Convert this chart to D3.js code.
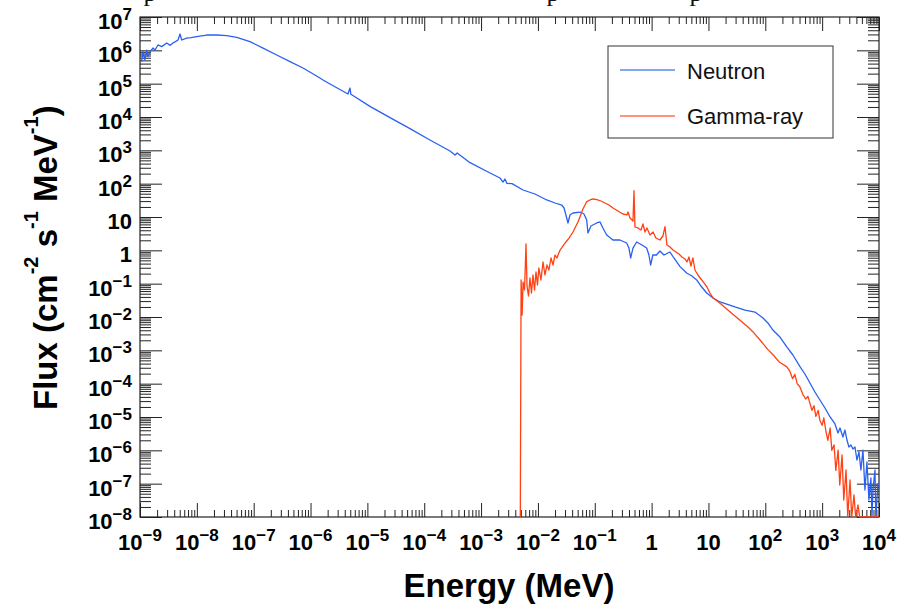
<!DOCTYPE html>
<html><head><meta charset="utf-8">
<script src="https://cdnjs.cloudflare.com/ajax/libs/d3/7.8.5/d3.min.js"></script>
<style>html,body{margin:0;padding:0;background:#fff;}svg{display:block;}</style>
</head><body>
<script>
// ---- data ----
const neutronEnergy = [1.07e-9,1.13e-9,1.22e-9,1.31e-9,1.38e-9,1.50e-9,1.69e-9,1.84e-9,2.07e-9,2.41e-9,
2.95e-9,3.39e-9,3.80e-9,4.27e-9,4.66e-9,5.06e-9,5.42e-9,6.62e-9,7.94e-9,9.93e-9,
1.49e-8,2.23e-8,3.35e-8,5.02e-8,8.61e-8,1.46e-7,2.54e-7,4.36e-7,7.36e-7,1.28e-6,
1.66e-6,2.20e-6,4.56e-6,4.94e-6,5.13e-6,1.11e-5,2.50e-5,5.61e-5,1.26e-4,2.84e-4,
3.48e-4,3.80e-4,6.38e-4,1.44e-3,2.15e-3,2.43e-3,2.63e-3,2.85e-3,3.50e-3,5.46e-3,
8.87e-3,1.43e-2,2.00e-2,2.62e-2,2.88e-2,3.11e-2,3.38e-2,3.66e-2,4.14e-2,5.50e-2,
6.46e-2,7.21e-2,7.59e-2,8.57e-2,0.108,0.124,0.139,0.162,0.209,0.277,
0.364,0.399,0.428,0.470,0.546,0.676,0.818,0.897,0.962,1.05,
1.22,1.40,1.65,2.10,2.47,3.16,4.14,5.13,6.21,7.38,
9.31,12.0,16.0,20.9,29.2,43.9,65.8,91.0,111,136,
181,237,306,407,498,610,746,914,1120,1370,
1680,1900,2060,2320,2520,2730,2960,3210,3480,3780,
4090,4440,4810,5220,5660,6140,6650,7210,7520,7830,
8490,8800,9200,9600,9980];
const neutronFlux = [4.57e5,9.12e5,5.13e5,1.02e6,6.46e5,9.12e5,1.17e6,1.02e6,1.45e6,1.29e6,
1.66e6,1.41e6,1.66e6,1.86e6,2.04e6,3.09e6,2.04e6,2.34e6,2.40e6,2.57e6,
2.88e6,2.88e6,2.75e6,2.45e6,1.82e6,1.17e6,7.24e5,4.57e5,2.95e5,1.70e5,
1.29e5,9.77e4,4.90e4,7.41e4,4.79e4,2.09e4,9.55e3,4.47e3,2.04e3,955,
724,832,427,209,148,112,138,102,100,64.6,
49.0,32.4,26.3,22.9,18.6,11.5,6.61,11.5,13.2,14.1,
12.3,8.13,3.31,5.37,6.61,7.08,4.68,2.88,2.04,2.04,
1.66,1.17,0.589,1.17,1.78,1.45,1.17,0.724,0.363,0.724,
0.724,0.955,0.724,0.891,0.589,0.324,0.209,0.170,0.129,8.51e-2,
5.25e-2,3.72e-2,2.82e-2,2.45e-2,2.00e-2,1.62e-2,1.41e-2,9.33e-3,6.61e-3,4.07e-3,
2.51e-3,1.29e-3,7.24e-4,3.24e-4,1.95e-4,1.05e-4,5.62e-5,3.24e-5,1.86e-5,1.02e-5,
6.17e-6,3.31e-6,4.68e-6,2.51e-6,4.07e-6,2.04e-6,1.26e-6,1.45e-6,1.10e-6,1.26e-6,
5.13e-7,8.91e-7,2.57e-7,1.02e-6,6.46e-8,4.47e-7,3.24e-8,1.48e-7,0,6.46e-8,
2.57e-7,0,3.24e-8,1.0e-7,9.12e-8];

const gammaEnergy = [4.90e-3,5.06e-3,5.27e-3,5.48e-3,5.81e-3,6.17e-3,6.43e-3,6.82e-3,7.24e-3,7.71e-3,
8.18e-3,8.71e-3,9.25e-3,9.82e-3,1.04e-2,1.13e-2,1.23e-2,1.33e-2,1.44e-2,1.56e-2,
1.70e-2,1.84e-2,2.00e-2,2.16e-2,2.44e-2,2.76e-2,3.11e-2,3.52e-2,4.14e-2,4.67e-2,
5.06e-2,5.50e-2,6.19e-2,7.21e-2,8.24e-2,9.29e-2,0.109,0.129,0.151,0.178,
0.209,0.256,0.313,0.368,0.384,0.416,0.470,0.490,0.509,0.575,
0.650,0.705,0.764,0.828,0.935,1.06,1.19,1.40,1.58,1.72,
1.86,2.10,2.38,2.68,3.03,3.42,3.86,4.19,4.54,4.92,
5.33,5.79,6.53,7.38,8.34,9.42,10.6,12.2,15.8,20.9,
28.2,37.2,50.1,60.3,69.2,80.7,93.3,110,138,178,
237,269,302,331,363,407,457,513,562,610,
661,718,776,851,912,1000,1070,1170,1260,1380,
1480,1620,1740,1910,2040,2240,2400,2630,2820,3090,
3310,3630,3890,4270,4570,10000];
const gammaFlux = [0,0.129,1.15e-2,0.112,6.46e-2,1.55,8.51e-2,4.27e-2,0.148,5.25e-2,
0.182,6.46e-2,0.224,9.12e-2,0.295,0.129,0.447,0.182,0.363,0.257,
0.589,0.363,0.724,0.589,1.00,1.35,1.78,2.34,3.55,5.37,
7.08,10.2,17.4,28.8,32.4,34.7,33.1,30.2,26.3,22.9,
18.6,15.1,12.3,11.5,14.1,9.33,7.59,61.7,5.01,4.68,
4.07,6.17,3.55,4.68,2.88,3.55,2.34,2.04,2.69,5.13,
1.45,1.26,1.02,0.891,0.776,0.631,0.550,0.447,0.631,0.339,
0.589,0.257,0.182,0.138,0.105,7.94e-2,5.25e-2,3.63e-2,2.63e-2,1.74e-2,
1.12e-2,7.59e-3,4.90e-3,3.63e-3,2.75e-3,2.04e-3,1.51e-3,1.07e-3,7.24e-4,4.37e-4,
3.24e-4,2.40e-4,1.41e-4,1.91e-4,1.00e-4,7.94e-5,4.79e-5,3.47e-5,4.17e-5,2.57e-5,
1.58e-5,2.19e-5,1.05e-5,1.58e-5,7.94e-6,5.62e-6,9.33e-6,3.55e-6,2.00e-6,4.68e-6,
1.00e-6,1.45e-6,2.51e-7,1.02e-6,9.12e-8,7.24e-7,3.24e-8,2.57e-7,0,1.29e-7,
0,4.57e-8,0,2.29e-8,0,0];

const seriesNames = ["Neutron","Gamma-ray"];
const xTickValues = [1e-9,1e-8,1e-7,1e-6,1e-5,1e-4,1e-3,1e-2,1e-1,1,10,100,1000,10000];
const xTickLabels = [["10","\u22129"],["10","\u22128"],["10","\u22127"],["10","\u22126"],["10","\u22125"],["10","\u22124"],["10","\u22123"],["10","\u22122"],["10","\u22121"],["1",""],["10",""],["10","2"],["10","3"],["10","4"]];
const yTickValues = [1e7,1e6,1e5,1e4,1e3,1e2,10,1,1e-1,1e-2,1e-3,1e-4,1e-5,1e-6,1e-7,1e-8];
const yTickLabels = [["10","7"],["10","6"],["10","5"],["10","4"],["10","3"],["10","2"],["10",""],["1",""],["10","\u22121"],["10","\u22122"],["10","\u22123"],["10","\u22124"],["10","\u22125"],["10","\u22126"],["10","\u22127"],["10","\u22128"]];
const xTitle = "Energy (MeV)";

// ---- layout ----
const W = 915, H = 604;
const L = 140, R = 879, T = 17, B = 517;
const blue = "#2a60f2", red = "#ff4114";
const FONT = "'Liberation Sans', Arial, Helvetica, sans-serif";

const svg = d3.select("body").append("svg").attr("width", W).attr("height", H)
  .style("font-family", FONT);

const x = d3.scaleLog().domain([1e-9, 1e4]).range([L, R]);
const y = d3.scaleLog().domain([1e-8, 1e7]).range([B, T]).clamp(true);

// cut-off caption line above the figure (only descenders visible)
svg.append("g").attr("font-family", "'Liberation Serif', 'DejaVu Serif', serif").attr("font-size", 26).attr("fill", "#111")
  .selectAll("text").data([150, 553, 696]).join("text")
  .attr("x", d => d).attr("y", 1).attr("text-anchor", "middle").text("p");

// minor tick values
const minorX = [], minorY = [];
for (let e = -9; e < 4; e++) for (let k = 2; k <= 9; k++) minorX.push(k * Math.pow(10, e));
for (let e = -8; e < 7; e++) for (let k = 2; k <= 9; k++) minorY.push(k * Math.pow(10, e));

function axisG(axis) {
  const g = svg.append("g");
  g.call(axis);
  g.select(".domain").remove();
  g.selectAll(".tick line").attr("stroke", "#222").attr("stroke-width", 1);
  g.selectAll(".tick text").remove();
  return g;
}
// bottom
axisG(d3.axisBottom(x).tickValues(xTickValues).tickSize(-14).tickSizeOuter(0)).attr("transform", `translate(0,${B})`);
axisG(d3.axisBottom(x).tickValues(minorX).tickSize(-7).tickSizeOuter(0)).attr("transform", `translate(0,${B})`);
// top
axisG(d3.axisTop(x).tickValues(xTickValues).tickSize(-14).tickSizeOuter(0)).attr("transform", `translate(0,${T})`);
axisG(d3.axisTop(x).tickValues(minorX).tickSize(-7).tickSizeOuter(0)).attr("transform", `translate(0,${T})`);
// left
axisG(d3.axisLeft(y).tickValues(yTickValues).tickSize(-22).tickSizeOuter(0)).attr("transform", `translate(${L},0)`);
axisG(d3.axisLeft(y).tickValues(minorY).tickSize(-11).tickSizeOuter(0)).attr("transform", `translate(${L},0)`);
// right
axisG(d3.axisRight(y).tickValues(yTickValues).tickSize(-22).tickSizeOuter(0)).attr("transform", `translate(${R},0)`);
axisG(d3.axisRight(y).tickValues(minorY).tickSize(-11).tickSizeOuter(0)).attr("transform", `translate(${R},0)`);

// frame
svg.append("rect").attr("x", L).attr("y", T).attr("width", R - L).attr("height", B - T)
  .attr("fill", "none").attr("stroke", "#222").attr("stroke-width", 1.2);

// tick labels
const xl = svg.append("g").attr("font-weight", "bold").attr("font-size", 22).attr("fill", "#000");
xTickValues.forEach((v, i) => {
  const t = xl.append("text").attr("x", x(v)).attr("y", 550).attr("text-anchor", "middle");
  t.append("tspan").text(xTickLabels[i][0]);
  if (xTickLabels[i][1]) t.append("tspan").attr("dy", -9).attr("font-size", 17).text(xTickLabels[i][1]);
});
const yl = svg.append("g").attr("font-weight", "bold").attr("font-size", 22).attr("fill", "#000");
yTickValues.forEach((v, i) => {
  const t = yl.append("text").attr("x", 132).attr("y", y(v) + 12).attr("text-anchor", "end");
  t.append("tspan").text(yTickLabels[i][0]);
  if (yTickLabels[i][1]) t.append("tspan").attr("dy", -9).attr("font-size", 17).text(yTickLabels[i][1]);
});

// axis titles
svg.append("text").attr("x", 509).attr("y", 597).attr("text-anchor", "middle")
  .attr("font-weight", "bold").attr("font-size", 33).text(xTitle);

const yt = svg.append("text").attr("transform", "translate(57,410) rotate(-90)")
  .attr("font-weight", "bold").attr("font-size", 33);
const ytParts = [["Flux (cm", 0], ["-2", 1], [" s", 0], ["-1", 1], [" MeV", 0], ["-1", 1], [")", 0]];
let prevSup = 0;
ytParts.forEach(([s, sup]) => {
  const ts = yt.append("tspan").text(s);
  if (sup) ts.attr("font-size", 20);
  if (sup && !prevSup) ts.attr("dy", -19);
  if (!sup && prevSup) ts.attr("dy", 19);
  prevSup = sup;
});

// data lines
svg.append("clipPath").attr("id", "plotclip").append("rect")
  .attr("x", L).attr("y", T - 1).attr("width", R - L).attr("height", B - T + 2);

const yPos = v => v > 0 ? y(v) : B;
const line = d3.line().x(d => x(d[0])).y(d => yPos(d[1]));
const neutronPts = neutronEnergy.map((e, i) => [e, neutronFlux[i]]);
const gammaPts = gammaEnergy.map((e, i) => [e, gammaFlux[i]]);

const plot = svg.append("g").attr("clip-path", "url(#plotclip)");
plot.append("path").datum(neutronPts).attr("d", line).attr("fill", "none")
  .attr("stroke", blue).attr("stroke-width", 1.3).attr("stroke-linejoin", "round");
plot.append("path").datum(gammaPts).attr("d", line).attr("fill", "none")
  .attr("stroke", red).attr("stroke-width", 1.3).attr("stroke-linejoin", "round");

// legend
const lg = svg.append("g");
lg.append("rect").attr("x", 608).attr("y", 46).attr("width", 225).attr("height", 92)
  .attr("fill", "#fff").attr("stroke", "#333").attr("stroke-width", 1);
[[blue, 70, 79], [red, 116, 124]].forEach(([c, ly, ty], i) => {
  lg.append("line").attr("x1", 620).attr("x2", 675).attr("y1", ly).attr("y2", ly)
    .attr("stroke", c).attr("stroke-width", 1.3).attr("opacity", 0.75);
  lg.append("text").attr("x", 687).attr("y", ty).attr("font-size", 22).attr("fill", "#111").text(seriesNames[i]);
});
</script>
</body></html>
